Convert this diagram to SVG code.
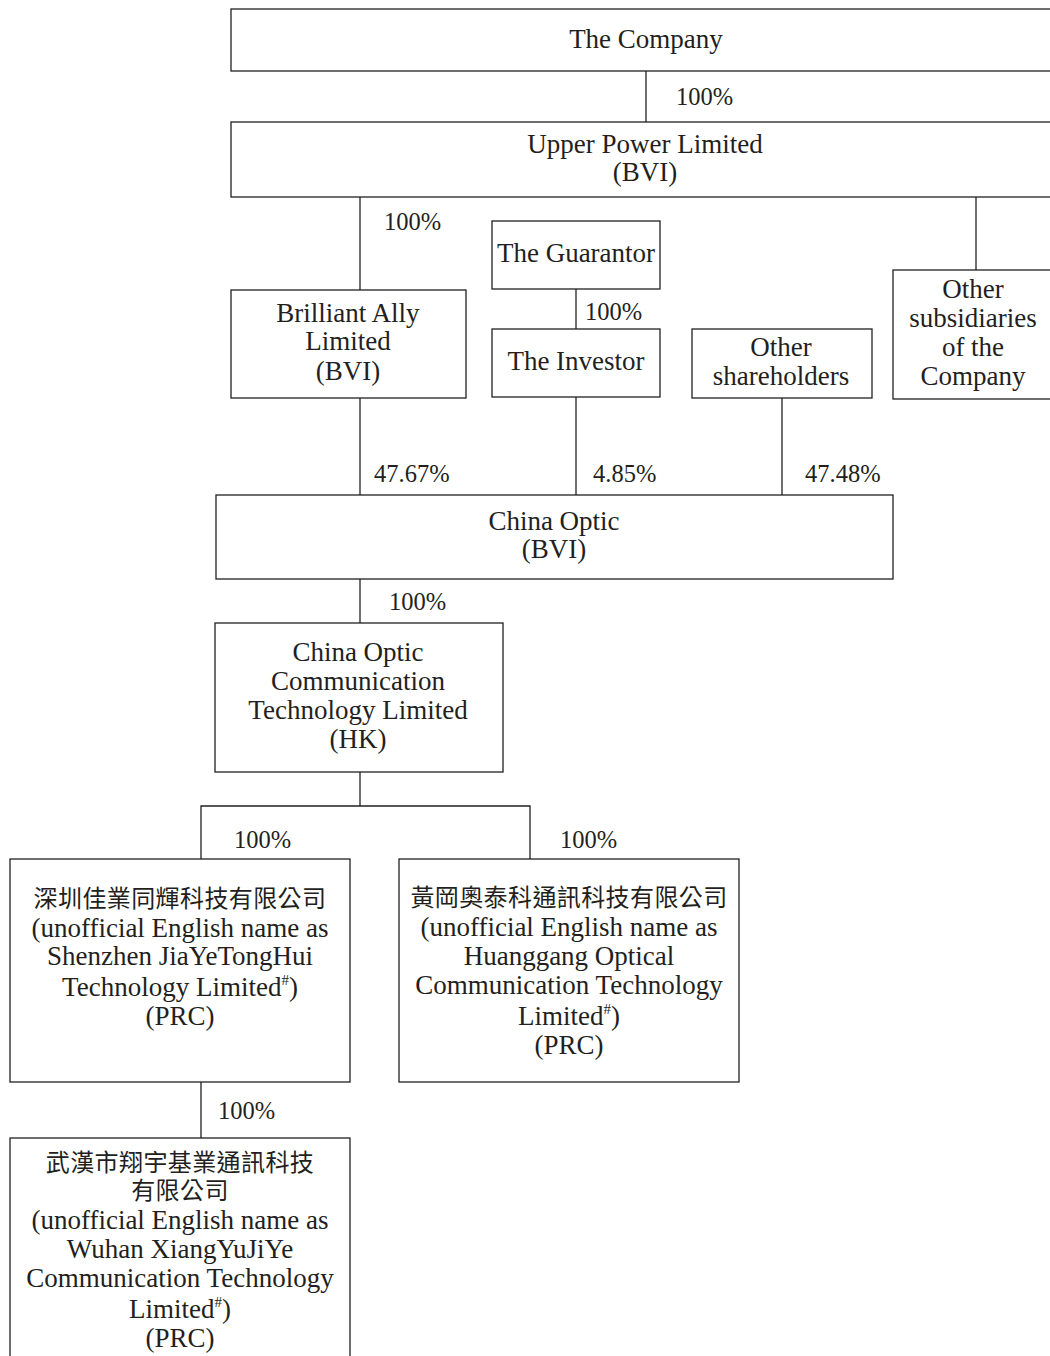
<svg xmlns="http://www.w3.org/2000/svg" width="1050" height="1356" viewBox="0 0 1050 1356">
<style>
.box{fill:#fff;stroke:#231f20;stroke-width:1.3}
.ln{stroke:#231f20;stroke-width:1.3;fill:none}
.t{font-family:"Liberation Serif","DejaVu Serif",serif;font-size:27px;fill:#231f20;text-anchor:middle}
.p{font-family:"Liberation Serif","DejaVu Serif",serif;font-size:24.5px;fill:#231f20}
.c{font-family:"Liberation Serif","Noto Sans CJK TC",serif;font-size:24px;letter-spacing:0.4px;fill:#231f20;text-anchor:middle}
.s{font-size:15px}
</style>
<rect width="1050" height="1356" fill="#fff"/>
<g id="connectors">
<line class="ln" x1="646" y1="71" x2="646" y2="122"/>
<line class="ln" x1="360" y1="197" x2="360" y2="290"/>
<line class="ln" x1="976" y1="197" x2="976" y2="270"/>
<line class="ln" x1="576" y1="289" x2="576" y2="329"/>
<line class="ln" x1="360" y1="398" x2="360" y2="495"/>
<line class="ln" x1="576" y1="397" x2="576" y2="495"/>
<line class="ln" x1="782" y1="398" x2="782" y2="495"/>
<line class="ln" x1="360" y1="579" x2="360" y2="623"/>
<polyline class="ln" points="360,772 360,806"/>
<polyline class="ln" points="201,859 201,806 530,806 530,859"/>
<line class="ln" x1="201" y1="1082" x2="201" y2="1138"/>
<text class="p" x="676" y="105">100%</text>
<text class="p" x="384" y="230">100%</text>
<text class="p" x="585" y="320">100%</text>
<text class="p" x="374" y="482">47.67%</text>
<text class="p" x="593" y="482">4.85%</text>
<text class="p" x="805" y="482">47.48%</text>
<text class="p" x="389" y="610">100%</text>
<text class="p" x="234" y="848">100%</text>
<text class="p" x="560" y="848">100%</text>
<text class="p" x="218" y="1119">100%</text>
</g>
<g id="company">
<rect class="box" x="231" y="9" width="830" height="62"/>
<text class="t" x="646" y="48">The Company</text>
</g>
<g id="upper-power">
<rect class="box" x="231" y="122" width="830" height="75"/>
<text class="t" x="645" y="153">Upper Power Limited</text>
<text class="t" x="645" y="181">(BVI)</text>
</g>
<g id="guarantor">
<rect class="box" x="492" y="221" width="168" height="68"/>
<text class="t" x="576" y="262">The Guarantor</text>
</g>
<g id="investor">
<rect class="box" x="492" y="329" width="168" height="68"/>
<text class="t" x="576" y="370">The Investor</text>
</g>
<g id="brilliant-ally">
<rect class="box" x="231" y="290" width="235" height="108"/>
<text class="t" x="348" y="322">Brilliant Ally</text>
<text class="t" x="348" y="350">Limited</text>
<text class="t" x="348" y="380">(BVI)</text>
</g>
<g id="other-shareholders">
<rect class="box" x="692" y="329" width="180" height="69"/>
<text class="t" x="781" y="356">Other</text>
<text class="t" x="781" y="385">shareholders</text>
</g>
<g id="other-subsidiaries">
<rect class="box" x="893" y="270" width="170" height="129"/>
<text class="t" x="973" y="298">Other</text>
<text class="t" x="973" y="327">subsidiaries</text>
<text class="t" x="973" y="356">of the</text>
<text class="t" x="973" y="385">Company</text>
</g>
<g id="china-optic">
<rect class="box" x="216" y="495" width="677" height="84"/>
<text class="t" x="554" y="530">China Optic</text>
<text class="t" x="554" y="558">(BVI)</text>
</g>
<g id="china-optic-hk">
<rect class="box" x="215" y="623" width="288" height="149"/>
<text class="t" x="358" y="661">China Optic</text>
<text class="t" x="358" y="690">Communication</text>
<text class="t" x="358" y="719">Technology Limited</text>
<text class="t" x="358" y="748">(HK)</text>
</g>
<g id="shenzhen">
<rect class="box" x="10" y="859" width="340" height="223"/>
<text class="c" x="180" y="907">深圳佳業同輝科技有限公司</text>
<text class="t" x="180" y="937">(unofficial English name as</text>
<text class="t" x="180" y="965">Shenzhen JiaYeTongHui</text>
<text class="t" x="180" y="996">Technology Limited<tspan class="s" dy="-11">#</tspan><tspan dy="11">)</tspan></text>
<text class="t" x="180" y="1025">(PRC)</text>
</g>
<g id="huanggang">
<rect class="box" x="399" y="859" width="340" height="223"/>
<text class="c" x="569" y="906">黃岡奧泰科通訊科技有限公司</text>
<text class="t" x="569" y="936">(unofficial English name as</text>
<text class="t" x="569" y="965">Huanggang Optical</text>
<text class="t" x="569" y="994">Communication Technology</text>
<text class="t" x="569" y="1025">Limited<tspan class="s" dy="-11">#</tspan><tspan dy="11">)</tspan></text>
<text class="t" x="569" y="1054">(PRC)</text>
</g>
<g id="wuhan">
<rect class="box" x="10" y="1138" width="340" height="230"/>
<text class="c" x="180" y="1171">武漢市翔宇基業通訊科技</text>
<text class="c" x="180" y="1199">有限公司</text>
<text class="t" x="180" y="1229">(unofficial English name as</text>
<text class="t" x="180" y="1258">Wuhan XiangYuJiYe</text>
<text class="t" x="180" y="1287">Communication Technology</text>
<text class="t" x="180" y="1318">Limited<tspan class="s" dy="-11">#</tspan><tspan dy="11">)</tspan></text>
<text class="t" x="180" y="1347">(PRC)</text>
</g>
</svg>
